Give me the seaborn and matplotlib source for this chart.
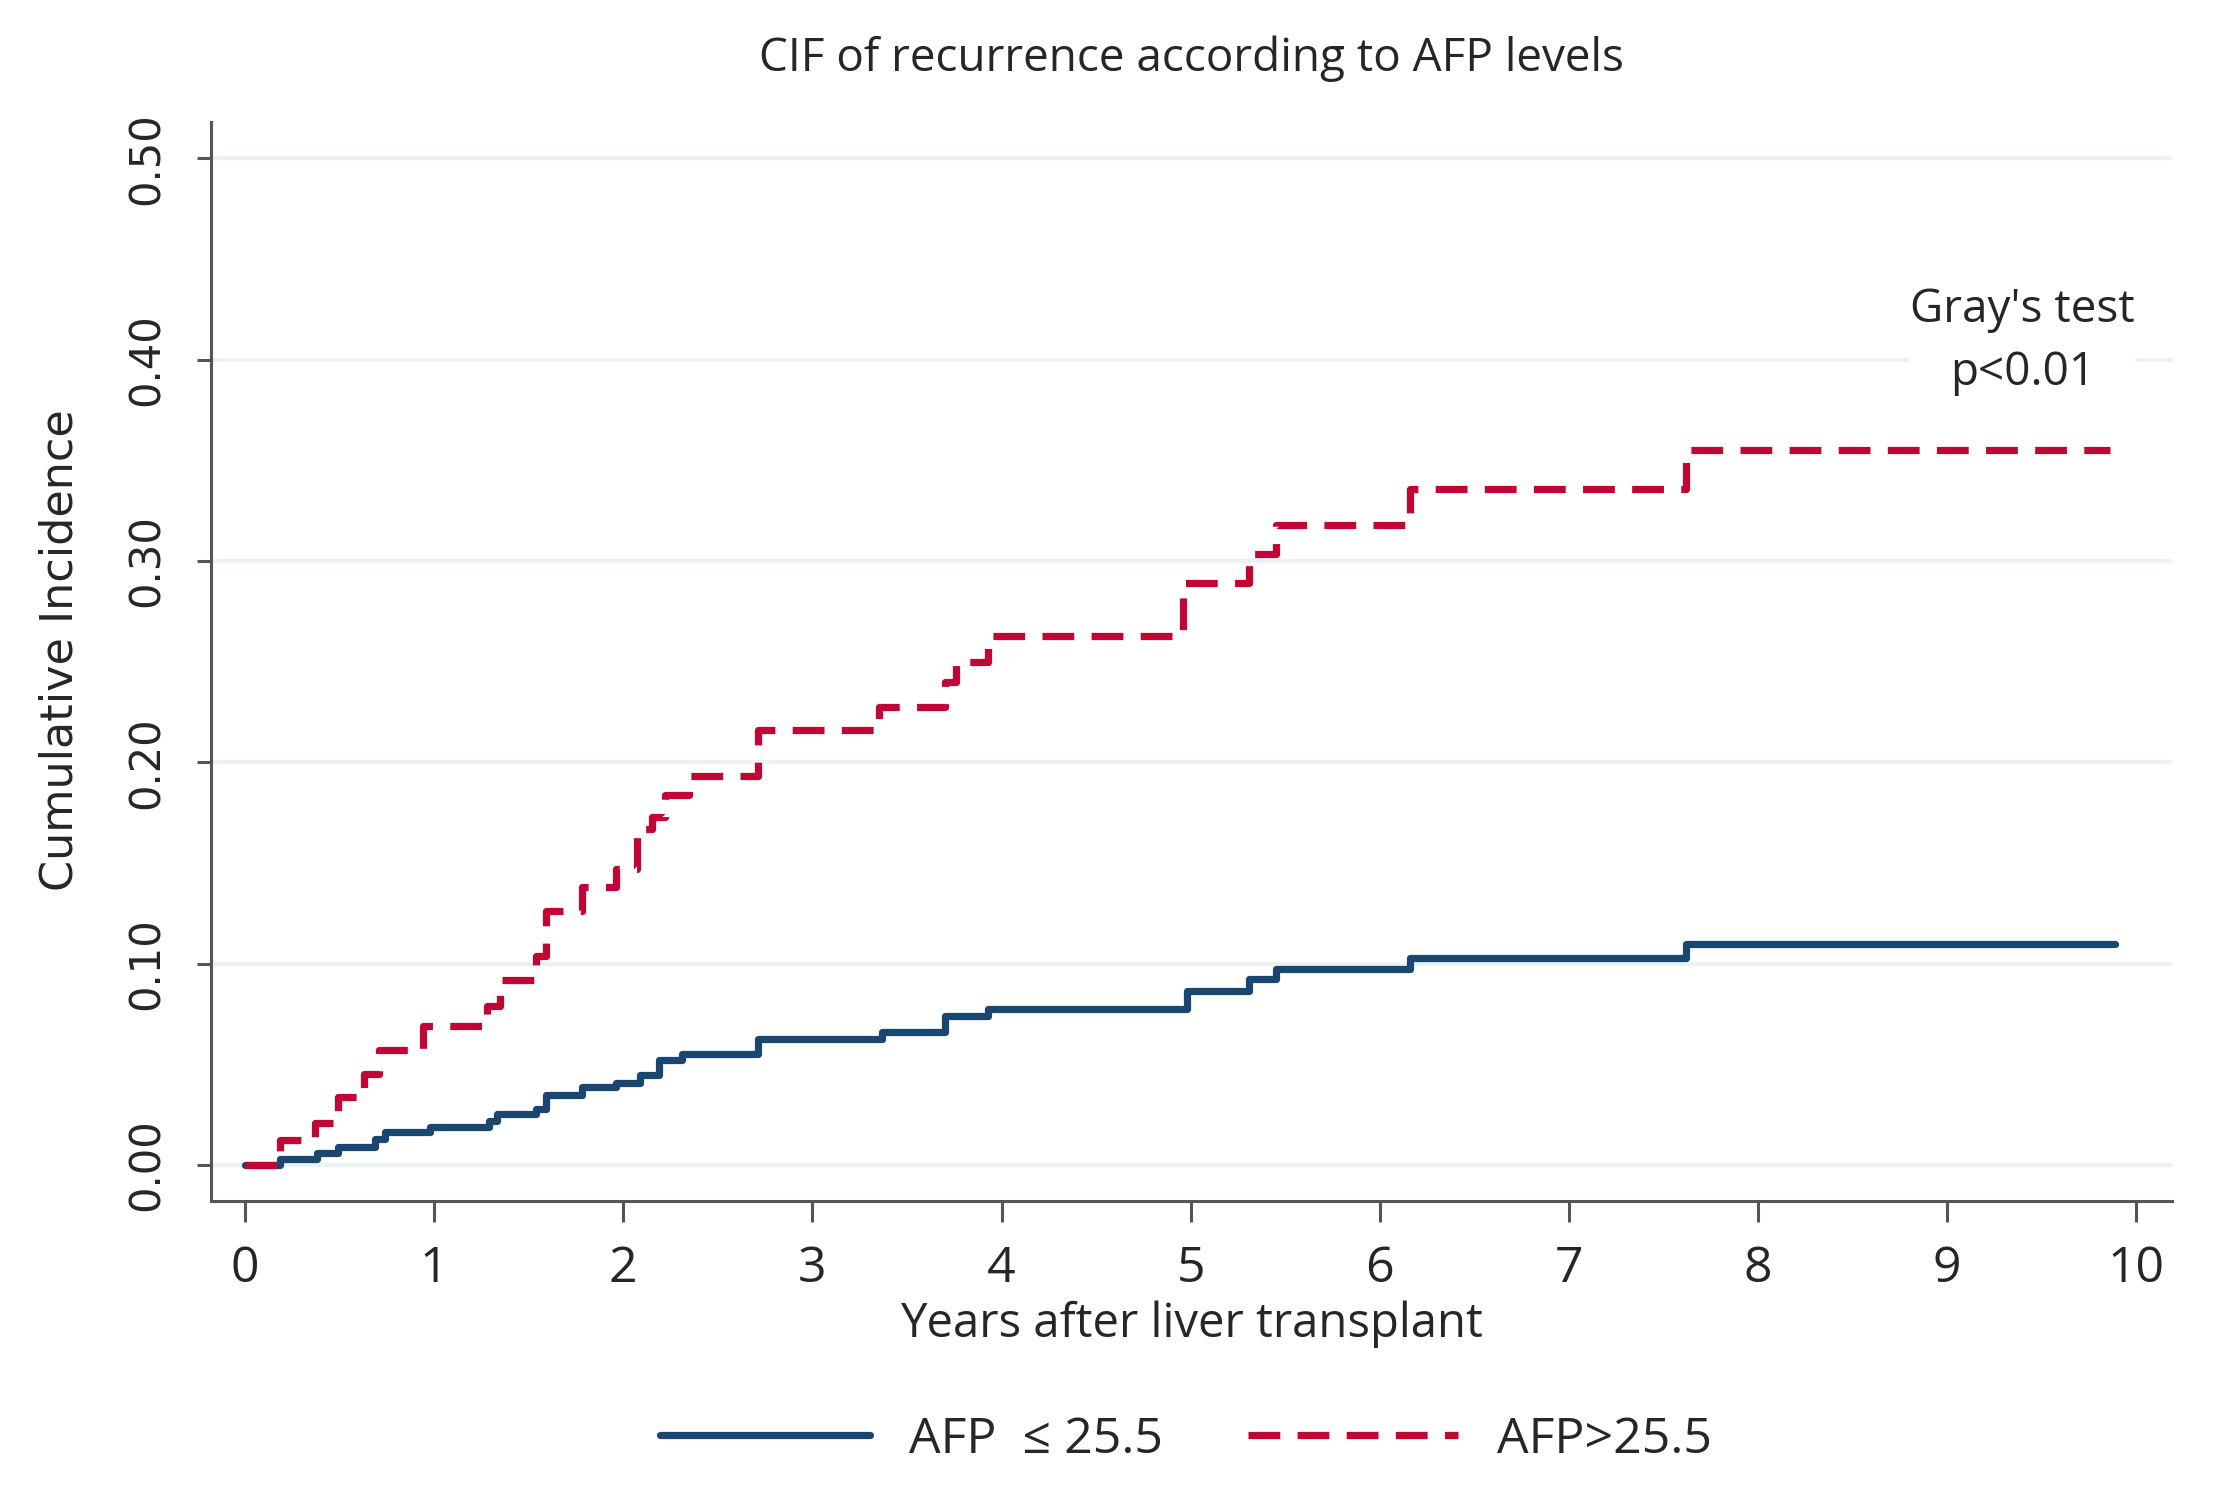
import pandas as pd
import seaborn as sns
import matplotlib.pyplot as plt

# step curves (years, cumulative incidence)
lowYears = [0, 0.185, 0.378, 0.49, 0.685, 0.74, 0.98, 1.29, 1.33, 1.54, 1.59, 1.78, 1.96,
            2.09, 2.19, 2.31, 2.71, 3.37, 3.70, 3.93, 4.98, 5.31, 5.45, 6.16, 7.62, 9.89]
lowCif = [0, 0.003, 0.006, 0.009, 0.013, 0.0165, 0.019, 0.022, 0.0255, 0.028, 0.035, 0.0387, 0.041,
          0.0445, 0.052, 0.055, 0.0626, 0.066, 0.074, 0.0774, 0.0865, 0.0925, 0.0975, 0.103, 0.110, 0.110]

highYears = [0, 0.185, 0.37, 0.49, 0.63, 0.71, 0.94, 1.28, 1.35, 1.54, 1.59, 1.78, 1.96, 2.07,
             2.15, 2.22, 2.35, 2.71, 3.35, 3.70, 3.76, 3.93, 4.96, 5.31, 5.45, 6.16, 7.62, 9.86]
highCif = [0, 0.0127, 0.021, 0.034, 0.045, 0.057, 0.069, 0.079, 0.092, 0.104, 0.126, 0.138, 0.147, 0.167,
           0.173, 0.184, 0.193, 0.216, 0.2275, 0.240, 0.250, 0.2626, 0.289, 0.3036, 0.318, 0.336, 0.355, 0.355]

groups = ["AFP  \u2264 25.5", "AFP>25.5"]
xTicks = list(range(0, 11))
yTicks = [0.0, 0.1, 0.2, 0.3, 0.4, 0.5]

df = pd.concat([
    pd.DataFrame({"years": lowYears, "cif": lowCif, "group": groups[0]}),
    pd.DataFrame({"years": highYears, "cif": highCif, "group": groups[1]}),
])

sns.set_style("white")
narrow = ["Open Sans", "DejaVu Sans"]
wide = ["DejaVu Sans"]
plt.rcParams["font.family"] = narrow

fig = plt.figure(figsize=(22.26, 14.96), dpi=100)
ax = fig.add_axes([0.0948, 0.1975, 0.881, 0.7209])

palette = {groups[0]: "#1a476f", groups[1]: "#c10534"}
dashes = {groups[0]: "", groups[1]: (4.4, 2.4)}
sns.lineplot(data=df, x="years", y="cif", hue="group", style="group", palette=palette,
             dashes=dashes, drawstyle="steps-post", linewidth=5.2, ax=ax, estimator=None, sort=False)

ax.set_xlim(-0.18, 10.19)
ax.set_ylim(-0.0176, 0.518)
ax.set_xticks(xTicks)
ax.set_xticklabels([str(t) for t in xTicks], fontsize=36)
ax.set_yticks(yTicks)
ax.set_yticklabels([f"{v:.2f}" for v in yTicks], rotation=90, va="center", fontsize=30, family=wide)

ax.yaxis.grid(True, color="#eaf2f3", linewidth=3)
ax.set_axisbelow(True)
for side in ["top", "right"]:
    ax.spines[side].set_visible(False)
for side in ["left", "bottom"]:
    ax.spines[side].set_color("#555555")
    ax.spines[side].set_linewidth(2.2)
ax.tick_params(axis="y", direction="out", length=10, width=2.2, color="#555555", pad=21, left=True)
ax.tick_params(axis="x", direction="out", length=15, width=2.2, color="#555555", pad=17, bottom=True)

ax.set_title("CIF of recurrence according to AFP levels", fontsize=33, pad=37)
ax.set_xlabel("Years after liver transplant", fontsize=34)
ax.xaxis.set_label_coords(0.5, -0.093)
ax.set_ylabel("Cumulative Incidence", fontsize=32, family=wide)
ax.yaxis.set_label_coords(-0.066, 0.51)

ax.text(9.40, 0.409, "Gray's test\np<0.01", fontsize=33, ha="center", va="center",
        linespacing=1.5, bbox=dict(facecolor="white", edgecolor="none", pad=1))

ax.legend(loc="center", bbox_to_anchor=(0.497, -0.222), ncol=2, frameon=False, fontsize=36,
          handlelength=4.2, columnspacing=1.7, handletextpad=0.78, title=None)

fig.savefig("out.png", dpi=100)
